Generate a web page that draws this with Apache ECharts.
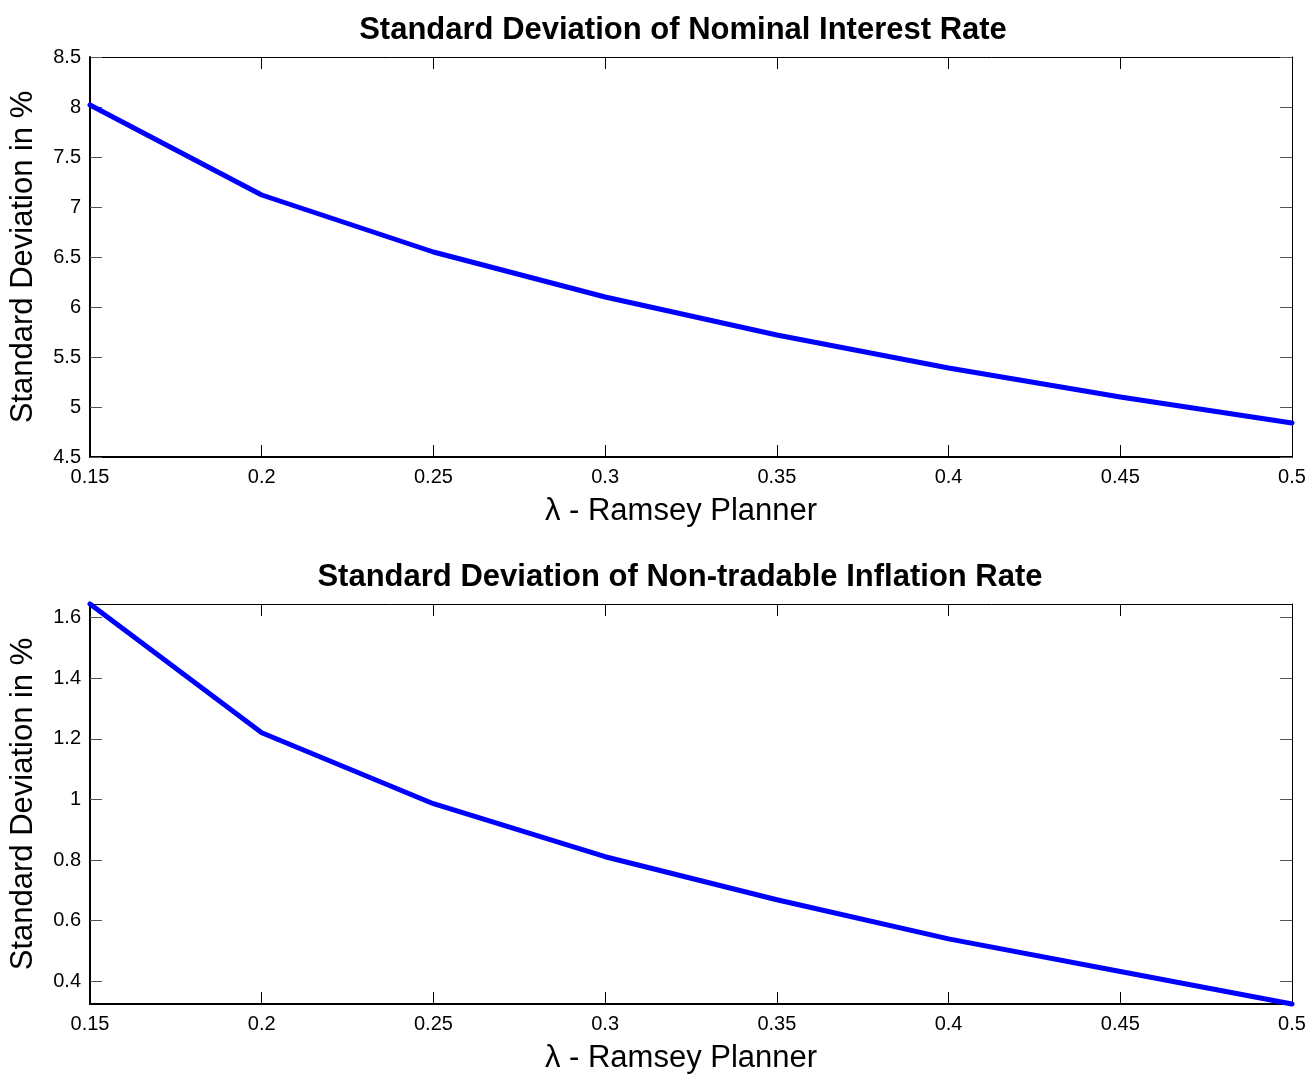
<!DOCTYPE html>
<html>
<head>
<meta charset="utf-8">
<script src="https://cdn.jsdelivr.net/npm/echarts@6/dist/echarts.min.js"></script>
<style>html,body{margin:0;padding:0;background:#fff}#c{width:1309px;height:1075px}</style>
</head>
<body>
<div id="c"></div>
<script>
const lambdaValues = [0.15, 0.2, 0.25, 0.3, 0.35, 0.4, 0.45, 0.5];
const nominalRateSd = [8.02, 7.12, 6.55, 6.10, 5.72, 5.39, 5.10, 4.84];
const nontradInflSd = [1.645, 1.220, 0.986, 0.811, 0.669, 0.540, 0.432, 0.325];
const xTicks = [0.15, 0.2, 0.25, 0.3, 0.35, 0.4, 0.45, 0.5];
const topYTicks = [4.5, 5, 5.5, 6, 6.5, 7, 7.5, 8, 8.5];
const bottomYTicks = [0.4, 0.6, 0.8, 1, 1.2, 1.4, 1.6];
const titles = ['Standard Deviation of Nominal Interest Rate', 'Standard Deviation of Non-tradable Inflation Rate'];
const xName = 'λ - Ramsey Planner';
const yName = 'Standard Deviation in %';

const FONT = 'Liberation Sans, Arial, sans-serif';
const fmt = v => String(Math.round(v * 1000) / 1000);

const chart = echarts.init(document.getElementById('c'), null, {renderer: 'canvas'});
const grids = [
  {left: 90, right: 17, top: 57, height: 400, outerBoundsMode: 'none', containLabel: false},
  {left: 90, right: 17, top: 604, height: 400, outerBoundsMode: 'none', containLabel: false}
];
const yRanges = [[4.5, 8.5], [0.325, 1.645]];
const yTickSets = [topYTicks, bottomYTicks];

const xAxes = [], yAxes = [], series = [];
[0, 1].forEach(i => {
  xAxes.push({
    type: 'value', gridIndex: i, min: 0.15, max: 0.5, position: 'bottom',
    name: xName, nameLocation: 'middle', nameGap: 39,
    nameTextStyle: {fontFamily: FONT, fontSize: 31, color: '#000', padding: [0, 20, 0, 0]},
    axisLine: {show: true, lineStyle: {color: '#000', width: 2}},
    axisTick: {show: true, inside: true, length: 12, customValues: xTicks, lineStyle: {color: '#000', width: 1}},
    axisLabel: {show: true, customValues: xTicks, formatter: fmt, fontFamily: FONT, fontSize: 20, color: '#000', margin: 10},
    splitLine: {show: false}
  });
  xAxes.push({
    type: 'value', gridIndex: i, min: 0.15, max: 0.5, position: 'top',
    axisLine: {show: true, lineStyle: {color: '#000', width: 1}},
    axisTick: {show: true, inside: true, length: 12, customValues: xTicks, lineStyle: {color: '#000', width: 1}},
    axisLabel: {show: false},
    splitLine: {show: false}
  });
  yAxes.push({
    type: 'value', gridIndex: i, min: yRanges[i][0], max: yRanges[i][1], position: 'left',
    name: yName, nameLocation: 'middle', nameGap: 51, nameRotate: 90,
    nameTextStyle: {fontFamily: FONT, fontSize: 31, color: '#000'},
    axisLine: {show: true, lineStyle: {color: '#000', width: 2}},
    axisTick: {show: true, inside: true, length: 12, customValues: yTickSets[i], lineStyle: {color: '#555', width: 1}},
    axisLabel: {show: true, customValues: yTickSets[i], formatter: fmt, fontFamily: FONT, fontSize: 20, color: '#000', margin: 9},
    splitLine: {show: false}
  });
  yAxes.push({
    type: 'value', gridIndex: i, min: yRanges[i][0], max: yRanges[i][1], position: 'right',
    axisLine: {show: true, lineStyle: {color: '#000', width: 1}},
    axisTick: {show: true, inside: true, length: 12, customValues: yTickSets[i], lineStyle: {color: '#555', width: 1}},
    axisLabel: {show: false},
    splitLine: {show: false}
  });
  const vals = i === 0 ? nominalRateSd : nontradInflSd;
  series.push({
    type: 'line', xAxisIndex: i * 2, yAxisIndex: i * 2,
    data: lambdaValues.map((x, k) => [x, vals[k]]),
    showSymbol: false, symbol: 'none', clip: false,
    lineStyle: {color: '#0000ff', width: 5, join: 'round', cap: 'round'},
    animation: false
  });
});

chart.setOption({
  backgroundColor: '#fff',
  animation: false,
  title: [
    {text: titles[0], left: 678, top: 10, textAlign: 'center', textStyle: {fontFamily: FONT, fontSize: 31, fontWeight: 'bold', color: '#000'}},
    {text: titles[1], left: 675, top: 557, textAlign: 'center', textStyle: {fontFamily: FONT, fontSize: 31, fontWeight: 'bold', color: '#000'}}
  ],
  grid: grids,
  xAxis: xAxes,
  yAxis: yAxes,
  series: series
});
</script>
</body>
</html>
